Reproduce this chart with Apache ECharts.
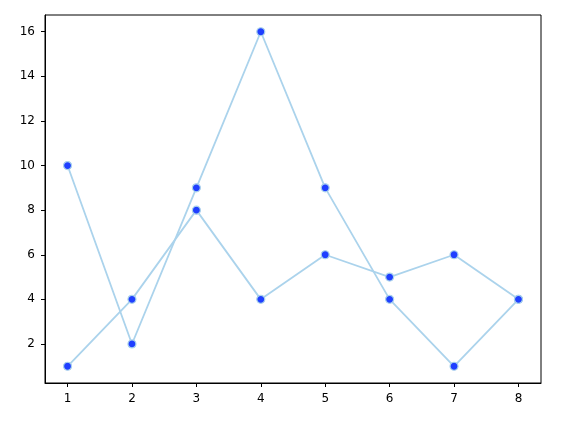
<!DOCTYPE html>
<html><head><meta charset="utf-8">
<script src="https://cdn.jsdelivr.net/npm/echarts@6/dist/echarts.min.js"></script>
<style>html,body{margin:0;padding:0;background:#fff}#c{width:563px;height:422px}</style>
</head><body><div id="c"></div>
<script>
const xValues = [1, 2, 3, 4, 5, 6, 7, 8];
const seriesA = [10, 2, 9, 16, 9, 4, 1, 4];
const seriesB = [1, 4, 8, 4, 6, 5, 6, 4];
const xTicks = [1, 2, 3, 4, 5, 6, 7, 8];
const yTicks = [2, 4, 6, 8, 10, 12, 14, 16];

const chart = echarts.init(document.getElementById('c'));
const lineColor = '#abd3ec';
const mk = {
  type: 'line', symbol: 'circle', symbolSize: 8,
  lineStyle: { color: lineColor, width: 1.8 },
  itemStyle: { color: '#1f3fff', borderColor: lineColor, borderWidth: 1.2 },
  animation: false, z: 3
};
const axisCommon = {
  type: 'value',
  axisLine: { show: true, lineStyle: { color: '#000', width: 1 } },
  axisTick: { show: true, inside: false, length: 4, lineStyle: { color: '#000', width: 1 } },
  axisLabel: { color: '#000', fontFamily: 'DejaVu Sans', fontSize: 12 },
  splitLine: { show: false }
};
chart.setOption({
  backgroundColor: '#fff',
  grid: { left: 45, right: 22, top: 15, bottom: 39, show: true, borderColor: '#000', borderWidth: 1, backgroundColor: 'transparent' },
  xAxis: Object.assign({}, axisCommon, {
    min: 0.65, max: 8.35,
    axisTick: Object.assign({}, axisCommon.axisTick, { customValues: xTicks }),
    axisLabel: Object.assign({}, axisCommon.axisLabel, { customValues: xTicks, margin: 10 })
  }),
  yAxis: Object.assign({}, axisCommon, {
    min: 0.25, max: 16.75,
    axisTick: Object.assign({}, axisCommon.axisTick, { customValues: yTicks }),
    axisLabel: Object.assign({}, axisCommon.axisLabel, { customValues: yTicks, margin: 10 })
  }),
  series: [
    Object.assign({}, mk, { data: xValues.map((x, i) => [x, seriesA[i]]) }),
    Object.assign({}, mk, { data: xValues.map((x, i) => [x, seriesB[i]]) })
  ]
});
</script></body></html>
